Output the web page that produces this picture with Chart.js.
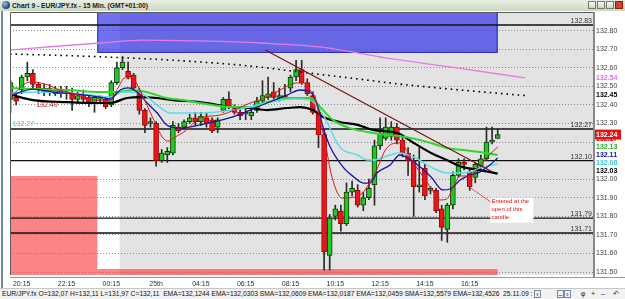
<!DOCTYPE html>
<html>
<head>
<meta charset="utf-8">
<title>Chart 9 - EUR/JPY.fx - 15 Min.</title>
<script src="https://cdn.jsdelivr.net/npm/chart.js@4/dist/chart.umd.min.js"></script>
<style>
  html,body{margin:0;padding:0;background:#fff;overflow:hidden;}
  #wrap{position:relative;width:625px;height:299px;overflow:hidden;font-family:"Liberation Sans",Arial,sans-serif;}
  #chart{position:absolute;left:0;top:0;}
  #titlebar{position:absolute;left:0;top:0;width:625px;height:11px;background:linear-gradient(#e9f0e4,#cbd8c3);}
  #icon{position:absolute;left:2px;top:1px;width:8px;height:8px;border-radius:50%;background:radial-gradient(circle at 35% 35%,#9fc0e8,#1c3c6c 70%);}
  #ttext{position:absolute;left:12px;top:0;font-size:8px;line-height:11px;font-weight:bold;color:#1a1a1a;white-space:nowrap;transform-origin:0 0;}
  .wbtn{position:absolute;top:1px;width:8px;height:8px;box-sizing:border-box;border:1px solid #6e7e68;background:linear-gradient(#fafafa,#d0d0d0);}
  .wbtn.x{background:#d8402c;border-color:#8a2010;}
  #status{position:absolute;left:0;top:288px;width:625px;height:11px;background:#f2f2f2;border-top:1px solid #c8c8c8;box-sizing:border-box;}
  #stext{position:absolute;left:2px;top:0;font-size:7px;line-height:10px;color:#111;white-space:nowrap;transform-origin:0 0;}
  .sbtn{position:absolute;top:1px;height:8px;font-size:7px;line-height:7px;color:#223;text-align:center;}
  .sbox{border:1px solid #7a8aa0;background:#eef2f8;box-sizing:border-box;width:7px;}
  #leftedge{position:absolute;left:1px;top:11px;width:2px;height:277px;background:#6f8aa4;}
</style>
</head>
<body>
<div id="wrap">
  <canvas id="chart" width="625" height="299"></canvas>
  <div id="leftedge"></div>
  <div id="titlebar">
    <div id="icon"></div>
    <div id="ttext">Chart 9 - EUR/JPY.fx - 15 Min. (GMT+01:00)</div>
    <div class="wbtn" style="left:588px"></div>
    <div class="wbtn" style="left:597px"></div>
    <div class="wbtn" style="left:606px"></div>
    <div class="wbtn x" style="left:615px"></div>
  </div>
  <div id="status">
    <div id="stext">EUR/JPY.fx O=132,07 H=132,11 L=131,97 C=132,11&nbsp; EMA=132,1244 EMA=132,0303 SMA=132,0609 EMA=132,0187 EMA=132,0459 SMA=132,5579 EMA=132,4526&nbsp; 25.11.09 :</div>
    <div class="sbtn sbox" style="left:534px">&lsaquo;</div>
    <div class="sbtn sbox" style="left:557px">&#8211;</div>
    <div class="sbtn sbox" style="left:564px">&rsaquo;</div>
    <div class="sbtn" style="left:580px;width:6px">&#966;</div>
    <div class="sbtn" style="left:590px;width:6px">+</div>
    <div class="sbtn" style="left:600px;width:6px">&#8211;</div>
    <div class="sbtn" style="left:612px;width:7px">&#8630;</div>
  </div>
</div>
<script>
// ================= DATA =================
const tickIndex = [2, 10, 18, 26, 34, 42, 50, 58, 66, 74, 82];
const tickText  = ['20:15','22:15','00:15','25th','04:15','06:15','08:15','10:15','12:15','14:15','16:15'];
const yTicks = [131.5,131.6,131.7,131.8,131.9,132.0,132.1,132.2,132.3,132.4,132.5,132.6,132.7,132.8];

const open = [
132.43,132.44,132.48,132.55,132.57,132.51,132.47,132.49,132.46,132.48,
132.47,132.46,132.43,132.45,132.44,132.41,132.43,132.43,132.40,132.52,
132.60,132.58,132.56,132.47,132.37,132.30,132.30,132.10,132.13,132.14,
132.28,132.28,132.31,132.33,132.31,132.33,132.32,132.28,132.37,132.43,
132.38,132.36,132.35,132.34,132.37,132.42,132.44,132.47,132.44,132.45,
132.49,132.55,132.59,132.52,132.45,132.36,132.24,131.59,131.80,131.83,
131.76,131.93,131.94,131.86,131.90,131.97,132.18,132.22,132.23,132.28,
132.21,132.14,132.10,131.96,132.06,131.94,131.94,131.84,131.73,131.86,
132.02,132.09,132.04,132.01,132.07,132.11,132.20,132.22];
const high = [
132.53,132.46,132.56,132.63,132.59,132.52,132.51,132.51,132.50,132.50,
132.50,132.49,132.47,132.48,132.45,132.45,132.45,132.44,132.53,132.63,
132.66,132.63,132.57,132.49,132.38,132.33,132.31,132.16,132.17,132.31,
132.30,132.32,132.35,132.36,132.36,132.36,132.33,132.33,132.44,132.47,
132.40,132.38,132.39,132.38,132.44,132.53,132.55,132.52,132.49,132.51,
132.56,132.64,132.64,132.54,132.47,132.37,132.27,131.81,131.86,131.86,
131.98,131.99,131.97,131.93,132.00,132.21,132.33,132.33,132.31,132.30,
132.23,132.17,132.13,132.17,132.08,131.96,131.95,131.86,131.87,132.04,
132.11,132.11,132.06,132.09,132.13,132.28,132.28,132.27];
const low = [
132.36,132.40,132.46,132.53,132.49,132.46,132.45,132.45,132.45,132.44,
132.43,132.37,132.41,132.41,132.39,132.36,132.41,132.38,132.39,132.51,
132.59,132.54,132.48,132.35,132.25,132.28,132.07,132.09,132.09,132.13,
132.25,132.27,132.30,132.29,132.29,132.28,132.25,132.25,132.36,132.38,
132.35,132.32,132.32,132.32,132.36,132.41,132.43,132.43,132.42,132.43,
132.47,132.53,132.51,132.45,132.35,132.17,131.51,131.51,131.78,131.72,
131.75,131.91,131.85,131.83,131.89,131.86,132.16,132.21,132.21,132.19,
132.12,132.02,131.80,131.93,131.89,131.92,131.82,131.67,131.66,131.84,
132.01,132.05,131.94,131.98,132.05,132.10,132.19,132.22];
const close = [
132.52,132.42,132.55,132.57,132.51,132.48,132.49,132.47,132.48,132.46,
132.46,132.43,132.45,132.43,132.41,132.44,132.44,132.39,132.52,132.60,
132.63,132.55,132.49,132.37,132.29,132.31,132.10,132.14,132.15,132.29,
132.26,132.31,132.33,132.31,132.34,132.30,132.26,132.32,132.43,132.39,
132.36,132.34,132.36,132.36,132.42,132.45,132.46,132.44,132.45,132.44,
132.55,132.59,132.52,132.46,132.36,132.24,131.61,131.79,131.84,131.76,
131.93,131.95,131.86,131.90,131.95,132.18,132.25,132.28,132.28,132.21,
132.14,132.10,131.96,131.97,131.91,131.95,131.83,131.74,131.86,132.02,
132.09,132.08,131.96,132.08,132.11,132.20,132.21,132.24];

// indicator lines: [bar index, price]
const emaRed = [[0.3,132.453],[3.5,132.523],[6.2,132.512],[8.8,132.480],[11.5,132.458],[15.1,132.426],[17.1,132.421],[18.1,132.437],[19.2,132.491],[20.4,132.545],[21.7,132.545],[23.1,132.480],[24.6,132.383],[26.0,132.292],[27.1,132.227],[28.1,132.205],[29.4,132.227],[31.2,132.259],[33.8,132.329],[37.4,132.345],[42.8,132.410],[45.8,132.442],[48.1,132.480],[51.2,132.518],[52.2,132.518],[53.5,132.480],[54.4,132.437],[55.3,132.318],[56.2,132.195],[57.4,132.012],[59.2,131.898],[62.4,131.915],[65.1,132.033],[67.2,132.168],[69.5,132.195],[72.0,132.087],[75.1,131.952],[76.7,131.888],[77.9,131.893],[79.0,131.952],[80.3,132.017],[82.0,132.017],[83.8,132.071],[85.1,132.119],[87.0,132.173]];
const emaBlue = [[0.3,132.453],[4.0,132.485],[7.6,132.469],[11.9,132.458],[16.0,132.442],[17.8,132.432],[19.6,132.480],[21.0,132.491],[22.6,132.469],[24.4,132.410],[26.2,132.356],[27.9,132.292],[30.3,132.275],[33.8,132.292],[39.7,132.335],[45.8,132.410],[49.4,132.453],[51.7,132.480],[53.5,132.469],[54.7,132.410],[55.8,132.281],[57.1,132.173],[59.4,132.065],[61.3,132.012],[63.0,131.979],[64.2,131.979],[65.4,132.033],[67.8,132.076],[69.5,132.130],[72.0,132.092],[75.1,132.012],[77.2,131.942],[78.5,131.947],[80.3,131.995],[82.0,132.022],[83.8,132.038],[85.6,132.076],[87.0,132.114]];
const emaCyan = [[0.3,132.464],[4.0,132.469],[10.1,132.464],[16.0,132.448],[17.8,132.442],[20.1,132.469],[23.1,132.464],[26.2,132.399],[28.5,132.356],[31.5,132.356],[33.8,132.356],[39.7,132.372],[45.8,132.410],[50.4,132.432],[53.5,132.426],[55.3,132.372],[56.5,132.308],[58.8,132.173],[62.0,132.130],[63.7,132.103],[64.7,132.103],[67.8,132.130],[69.5,132.141],[72.0,132.119],[75.1,132.065],[77.9,132.033],[79.7,132.033],[82.0,132.038],[83.8,132.060],[87.0,132.082]];
const smaGreen = [[0.3,132.491],[4.0,132.485],[10.1,132.480],[16.0,132.469],[19.0,132.469],[21.9,132.480],[24.9,132.464],[27.9,132.437],[30.8,132.426],[33.8,132.410],[39.7,132.388],[42.8,132.388],[45.8,132.415],[49.4,132.437],[53.5,132.437],[55.3,132.388],[57.6,132.318],[60.6,132.275],[63.7,132.254],[67.2,132.238],[69.5,132.232],[75.1,132.195],[77.9,132.168],[80.8,132.157],[83.8,132.146],[87.0,132.130]];
const emaBlack = [[0.3,132.453],[4.0,132.426],[10.1,132.415],[16.0,132.410],[17.8,132.410],[20.8,132.437],[23.1,132.442],[26.2,132.437],[29.0,132.426],[33.8,132.415],[39.7,132.388],[42.8,132.383],[45.8,132.372],[49.4,132.383],[51.7,132.388],[54.0,132.372],[55.8,132.335],[58.8,132.308],[62.0,132.292],[64.7,132.265],[68.3,132.254],[69.5,132.243],[72.0,132.195],[75.1,132.141],[77.9,132.103],[80.8,132.065],[83.8,132.049],[87.0,132.030]];
const smaPink = [[-0.1,132.695],[8.8,132.717],[16.0,132.733],[23.7,132.749],[33.8,132.744],[44.6,132.733],[55.3,132.712],[67.2,132.652],[78.5,132.604],[91.9,132.545]];
const emaDotted = [[-0.1,132.674],[12.4,132.663],[24.9,132.647],[33.8,132.631],[42.8,132.609],[51.7,132.577],[60.6,132.545],[69.5,132.512],[78.5,132.485],[91.9,132.450]];

const levels = [132.83, 132.27, 132.10, 131.79, 131.71];
const trendLine = [[45.5,132.695],[86.0,132.040]];
const entryPointer = [[82.2,131.952],[86.0,131.872]];
const entryNote = ['Entered at the','open of this','candle'];
const entryNoteAt = [85.7, 131.895];
const sessionStart = 19.5;
const blueZone = {x0:15.5, x1:87, lo:132.68, hi:133.20};
const redZone  = {x0:-5, x1:15.5, lo:131.30, hi:132.017};
const redStrip = {x0:15.5, x1:87, lo:131.30, hi:131.516};
const sideValues = [132.54, 132.45, 132.17, 132.13, 132.11, 132.08, 132.03];
const lastPrice = 132.24;
const leftTagValues = [132.40, 132.27];
const leftTagIndex = [6.5, 2.3];

// ================= STYLE =================
const FAM = '"Liberation Sans", Arial, sans-serif';
const F = (s, b) => (b ? 'bold ' : '') + s + 'px ' + FAM;
const X_MIN = -0.09, X_MAX = 104.2, Y_MIN = 131.484, Y_MAX = 132.90;
const sideColors = ['#e070e0','#000000','#e00000','#20b020','#1010a0','#30c8dc','#000000'];
const leftTagColors = ['#a03030','#38c8dc'];

const idx = open.map((_, i) => i);
const up = idx.map(i => close[i] >= open[i]);

const lineDs = (pts, color, width, order, extra) => Object.assign({
  type: 'line', data: pts.map(p => ({x: p[0], y: p[1]})),
  borderColor: color, borderWidth: width, pointRadius: 0, fill: false,
  cubicInterpolationMode: 'monotone', order
}, extra || {});

const datasets = [
  lineDs(entryPointer, '#e03030', 0.8, 1, {cubicInterpolationMode: 'default', tension: 0}),
  lineDs(trendLine, '#7a1010', 1.2, 2, {cubicInterpolationMode: 'default', tension: 0}),
  lineDs(emaRed, '#e01818', 1, 3),
  lineDs(emaBlue, '#1414a8', 1.3, 4),
  lineDs(emaCyan, '#5cdce8', 1.5, 5),
  lineDs(smaGreen, '#2ed82e', 2, 6),
  lineDs(emaBlack, '#000000', 2.2, 7),
  lineDs(smaPink, '#e47ce4', 1.3, 8),
  lineDs(emaDotted, '#000000', 1.6, 9, {borderDash: [1.6, 4]}),
  {
    type: 'bar', data: idx.map(i => ({x: i, y: [open[i], close[i]]})),
    backgroundColor: idx.map(i => up[i] ? '#22c822' : '#e41818'),
    borderColor: idx.map(i => up[i] ? '#0c3a0c' : '#a80000'),
    borderWidth: 1, borderSkipped: false, barThickness: 5, grouped: false, order: 14
  },
  {
    type: 'bar', data: idx.map(i => ({x: i, y: [low[i], high[i]]})),
    backgroundColor: '#2a2a2a', borderWidth: 0, barThickness: 1, grouped: false, order: 15
  },
  ...levels.map(v => lineDs([[X_MIN, v], [X_MAX, v]], '#101010', 1.4, 20, {cubicInterpolationMode: 'default', tension: 0}))
];

const deco = {
  id: 'deco',
  beforeDraw(chart) {
    const {ctx, chartArea: a, scales: {x}} = chart;
    ctx.save();
    ctx.fillStyle = '#ffffff';
    ctx.fillRect(0, 0, chart.width, chart.height);
    const xs = x.getPixelForValue(sessionStart);
    ctx.fillStyle = '#e3e3e3';
    ctx.fillRect(xs, a.top, a.right - xs, a.bottom - a.top);
    ctx.restore();
  },
  beforeDatasetsDraw(chart) {
    const {ctx, chartArea: a, scales: {x, y}} = chart;
    ctx.save();
    ctx.beginPath(); ctx.rect(a.left, a.top, a.right - a.left, a.bottom - a.top); ctx.clip();
    const box = (z, fill, stroke) => {
      const x0 = x.getPixelForValue(z.x0), x1 = x.getPixelForValue(z.x1);
      const y0 = y.getPixelForValue(z.hi), y1 = y.getPixelForValue(z.lo);
      ctx.fillStyle = fill; ctx.fillRect(x0, y0, x1 - x0, y1 - y0);
      if (stroke) { ctx.strokeStyle = stroke; ctx.lineWidth = 1; ctx.strokeRect(x0 + 0.5, y0 + 0.5, x1 - x0 - 1, y1 - y0 - 1); }
    };
    box(blueZone, 'rgba(40,40,232,0.66)', 'rgba(30,30,170,0.9)');
    box(redZone, 'rgba(250,50,50,0.6)', null);
    box(redStrip, 'rgba(250,50,50,0.6)', null);
    ctx.restore();
  },
  afterDatasetsDraw(chart) {
    const {ctx, chartArea: a, scales: {x, y}} = chart;
    ctx.save();
    ctx.font = F(7); ctx.fillStyle = '#333'; ctx.textAlign = 'right'; ctx.textBaseline = 'bottom';
    levels.forEach(v => ctx.fillText(v.toFixed(2), a.right - 2, y.getPixelForValue(v) - 0.5));
    ctx.textAlign = 'center'; ctx.textBaseline = 'middle';
    leftTagValues.forEach((v, k) => {
      ctx.fillStyle = leftTagColors[k];
      ctx.fillText(v.toFixed(2), x.getPixelForValue(leftTagIndex[k]), y.getPixelForValue(v) - (k === 1 ? 5 : 0));
    });
    const nx = x.getPixelForValue(entryNoteAt[0]), ny = y.getPixelForValue(entryNoteAt[1]);
    ctx.fillStyle = '#ffffff'; ctx.fillRect(nx, ny - 1, 43, 25);
    ctx.fillStyle = '#e01010'; ctx.font = F(6); ctx.textAlign = 'left'; ctx.textBaseline = 'top';
    entryNote.forEach((t, k) => ctx.fillText(t, nx + 1, ny + k * 8));
    ctx.restore();
  },
  afterDraw(chart) {
    const {ctx, chartArea: a, scales: {y}} = chart;
    ctx.save();
    ctx.strokeStyle = '#5a5a5a'; ctx.lineWidth = 1;
    ctx.beginPath(); ctx.moveTo(a.left + 0.5, a.bottom); ctx.lineTo(a.left + 0.5, a.top + 0.5); ctx.lineTo(a.right, a.top + 0.5); ctx.stroke();
    ctx.strokeStyle = '#8a8a8a'; ctx.lineWidth = 2;
    ctx.beginPath(); ctx.moveTo(a.right, a.top); ctx.lineTo(a.right, a.bottom + 2); ctx.stroke();
    ctx.strokeStyle = '#9a9a9a'; ctx.lineWidth = 1;
    ctx.beginPath(); ctx.moveTo(a.left, a.bottom + 2.5); ctx.lineTo(chart.width, a.bottom + 2.5); ctx.stroke();
    const items = sideValues.map((v, k) => ({v, k, py: y.getPixelForValue(v) - 1})).sort((p, q) => q.py - p.py);
    items[0].py -= 2;
    for (let j = 1; j < items.length; j++) if (items[j].py > items[j - 1].py - 7.8) items[j].py = items[j - 1].py - 7.8;
    ctx.font = F(7, true); ctx.textAlign = 'left'; ctx.textBaseline = 'middle';
    items.forEach(it => {
      ctx.fillStyle = '#ffffff'; ctx.fillRect(a.right + 1, it.py - 4, 30, 8);
      ctx.fillStyle = sideColors[it.k]; ctx.fillText(it.v.toFixed(2), a.right + 2, it.py);
    });
    const lp = y.getPixelForValue(lastPrice);
    ctx.fillStyle = '#e01414'; ctx.fillRect(a.right + 1, lp - 5, 26, 10);
    ctx.fillStyle = '#ffffff'; ctx.fillText(lastPrice.toFixed(2), a.right + 2, lp);
    ctx.restore();
  }
};

new Chart(document.getElementById('chart'), {
  type: 'bar',
  data: { datasets },
  options: {
    responsive: false, animation: false, devicePixelRatio: 1,
    layout: { padding: { left: 10, right: 0, top: 12, bottom: 11 } },
    plugins: { legend: { display: false }, tooltip: { enabled: false } },
    scales: {
      x: {
        type: 'linear', min: X_MIN, max: X_MAX, offset: false,
        grid: { display: false, drawTicks: false, offset: false }, border: { display: false },
        afterBuildTicks: s => { s.ticks = tickIndex.map(v => ({value: v})); },
        ticks: { autoSkip: false, maxRotation: 0, padding: 5, color: '#333', font: { size: 7, family: FAM },
                 callback: v => tickText[tickIndex.indexOf(v)] },
        afterFit: s => { s.height = 13; }
      },
      y: {
        type: 'linear', position: 'right', min: Y_MIN, max: Y_MAX, beginAtZero: false,
        afterBuildTicks: s => { s.ticks = yTicks.map(v => ({value: v})); },
        grid: { color: '#8c8c8c', lineWidth: 1, drawTicks: false },
        border: { display: false, dash: [1, 2] },
        ticks: { padding: 2, color: '#444', font: { size: 7, family: FAM }, callback: v => v.toFixed(2) },
        afterFit: s => { s.width = 31; }
      }
    }
  },
  plugins: [deco]
});

function fitText(id, w) {
  const el = document.getElementById(id);
  el.style.transform = 'scaleX(' + (w / el.scrollWidth) + ')';
}
fitText('ttext', 136);
fitText('stext', 530);
</script>
</body>
</html>
